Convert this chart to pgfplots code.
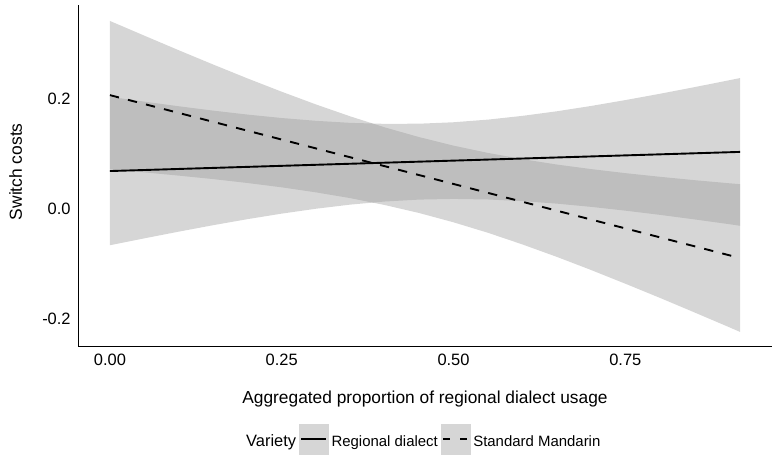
\documentclass[border=0pt]{standalone}
\usepackage{fontspec}
\setmainfont{Liberation Sans}
\usepackage{pgfplots}
\pgfplotsset{compat=1.18}
\definecolor{ribbon}{RGB}{153,153,153}
\definecolor{keyfill}{RGB}{214,214,214}
\begin{document}
\begin{tikzpicture}
\useasboundingbox (0,0) rectangle (780bp,461bp);
\begin{axis}[
  scale only axis, width=694bp, height=341bp,
  at={(78bp,115bp)}, anchor=south west,
  xmin=-0.0465, xmax=0.9635, ymin=-0.2491, ymax=0.3709,
  axis x line*=bottom, axis y line*=left,
  axis line style={-, line width=1bp, black},
  xtick={0,0.25,0.5,0.75}, xticklabels={0.00,0.25,0.50,0.75},
  ytick={-0.2,0,0.2}, yticklabels={-0.2,0.0,0.2},
  major tick length=0pt, tick style={draw=none},
  ticklabel style={font=\fontsize{16.5}{18}\selectfont, inner sep=0pt},
  xticklabel style={anchor=north, yshift=-8.3bp},
  yticklabel style={anchor=east, xshift=-7.2bp},
  xlabel={Aggregated proportion of regional dialect usage},
  ylabel={Switch costs},
  xlabel style={font=\fontsize{17.4}{20}\selectfont, at={(axis description cs:0.5,-0.168)}, anchor=base, inner sep=0pt},
  ylabel style={font=\fontsize{17.5}{20}\selectfont, at={(axis description cs:-0.0807,0.511)}, anchor=base, inner sep=0pt},
  legend style={draw=none, fill=none, inner sep=0pt, at={(axis description cs:0.2378,-0.2727)}, anchor=west,
    font=\fontsize{15}{18}\selectfont, column sep=3bp, nodes={inner sep=0pt, text height=11bp, text depth=3.2bp}},
  legend columns=-1,
  legend cell align=left,
]
% Standard Mandarin ribbon
\addplot[draw=none, fill=ribbon, fill opacity=0.4, forget plot] coordinates {
(0,.3419)(0.05,.3152)(0.1,.2887)(0.15,.2628)(0.2,.2375)(0.25,.2132)(0.3,.1900)(0.35,.1683)(0.4,.1484)(0.45,.1307)(0.5,.1152)(0.55,.1020)(0.6,.0907)(0.65,.0809)(0.7,.0726)(0.75,.0652)(0.8,.0586)(0.85,.0525)(0.9,.0469)(0.917,.0451)
(0.917,-.2235)(0.9,-.2143)(0.85,-.1877)(0.8,-.1614)(0.75,-.1358)(0.7,-.1108)(0.65,-.0869)(0.6,-.0643)(0.55,-.0432)(0.5,-.0242)(0.45,-.0073)(0.4,.0072)(0.35,.0197)(0.3,.0302)(0.25,.0394)(0.2,.0473)(0.15,.0544)(0.1,.0607)(0.05,.0666)(0,.0721)
};
% Regional dialect ribbon
\addplot[draw=none, fill=ribbon, fill opacity=0.4, forget plot] coordinates {
(0,.2039)(0.05,.1952)(0.1,.1868)(0.15,.1789)(0.2,.1717)(0.25,.1654)(0.3,.1603)(0.35,.1566)(0.4,.1548)(0.45,.1551)(0.5,.1577)(0.55,.1625)(0.6,.1693)(0.65,.1776)(0.7,.1873)(0.75,.1980)(0.8,.2094)(0.85,.2214)(0.9,.2338)(0.917,.2381)
(0.917,-.0305)(0.9,-.0274)(0.85,-.0188)(0.8,-.0106)(0.75,-.0030)(0.7,.0039)(0.65,.0098)(0.6,.0143)(0.55,.0173)(0.5,.0183)(0.45,.0171)(0.4,.0136)(0.35,.0080)(0.3,.0005)(0.25,-.0084)(0.2,-.0185)(0.15,-.0295)(0.1,-.0412)(0.05,-.0534)(0,-.0659)
};
% lines
\addplot[black, line width=1.9bp, mark=none, forget plot] coordinates {(0,0.069) (0.917,0.1038)};
\addplot[black, line width=1.9bp, mark=none, dash pattern=on 9.3bp off 9.3bp, forget plot] coordinates {(0,0.207) (0.917,-0.0892)};
% legend
\addlegendimage{empty legend}
\addlegendentry{\fontsize{16.5}{18}\selectfont Variety\hspace{4bp}}
\addlegendimage{legend image code/.code={\fill[keyfill] (0bp,-11.2bp) rectangle (29bp,18.8bp); \draw[black, line width=1.9bp] (2bp,3.8bp) -- (27bp,3.8bp);}}
\addlegendentry{Regional dialect}
\addlegendimage{legend image code/.code={\fill[keyfill] (0bp,-11.2bp) rectangle (29bp,18.8bp); \draw[black, line width=1.9bp, dash pattern=on 7bp off 10bp] (2bp,3.8bp) -- (27bp,3.8bp);}}
\addlegendentry{Standard Mandarin}
\end{axis}
\end{tikzpicture}
\end{document}
